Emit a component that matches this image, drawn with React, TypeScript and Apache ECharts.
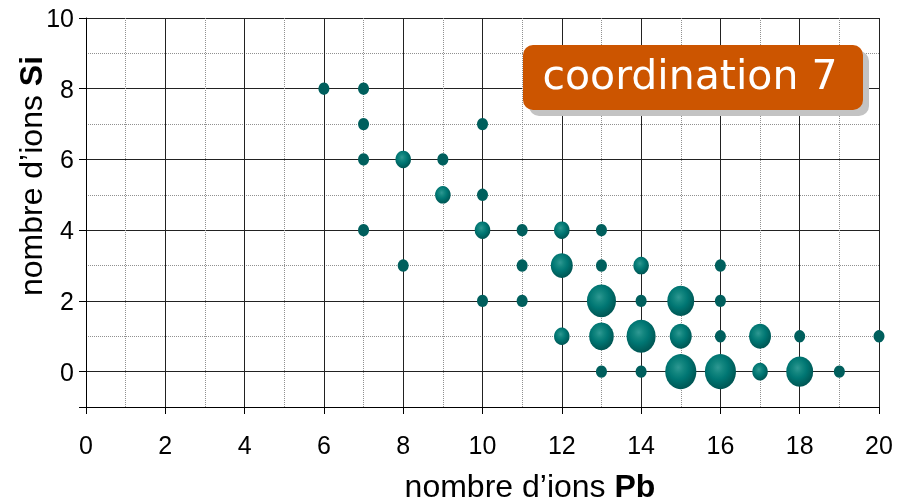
import React, { useEffect, useRef } from "react";
import * as echarts from "echarts";

// Number of Pb ions (x), number of Si ions (y) and relative weight (bubble area) of each configuration
const pbIons = [6, 7, 7, 10, 7, 8, 9, 9, 10, 7, 10, 11, 12, 13, 8, 11, 12, 13, 14, 16, 10, 11, 13, 14, 15, 16, 12, 13, 14, 15, 16, 17, 18, 20, 13, 14, 15, 16, 17, 18, 19];
const siIons = [8, 8, 7, 7, 6, 6, 6, 5, 5, 4, 4, 4, 4, 4, 3, 3, 3, 3, 3, 3, 2, 2, 2, 2, 2, 2, 1, 1, 1, 1, 1, 1, 1, 1, 0, 0, 0, 0, 0, 0, 0];
const weights = [1, 1, 1, 1, 1, 2, 1, 2, 1, 1, 2, 1, 2, 1, 1, 1, 4, 1, 2, 1, 1, 1, 7, 1, 6, 1, 2, 5, 7, 4, 1, 4, 1, 1, 1, 1, 8, 8, 2, 6, 1];

const xTicks = [0, 2, 4, 6, 8, 10, 12, 14, 16, 18, 20];
const yLabels = [0, 2, 4, 6, 8, 10];
const yMajorTicks = [-1, 0, 2, 4, 6, 8, 10];
const yMinorLines = [1, 3, 5, 7, 9];

const title = "coordination 7";
const xName = "nombre d\u2019ions ";
const xNameBold = "Pb";
const yName = "nombre d\u2019ions ";
const yNameBold = "Si";

const FONT = '"Liberation Sans", Arial, sans-serif';

export default function App() {
  const ref = useRef<HTMLDivElement>(null);

  useEffect(() => {
    const chart = echarts.init(ref.current!, null, { renderer: "svg" });

    const points = pbIons.map((x, i) => [x, siIons[i], weights[i]]);
    const dots = points.filter((p) => p[2] <= 1);
    const bubbles = points.filter((p) => p[2] > 1);

    const bubbleFill = new echarts.graphic.RadialGradient(0.42, 0.38, 0.62, [
      { offset: 0, color: "#2f9893" },
      { offset: 0.28, color: "#13867f" },
      { offset: 0.55, color: "#007673" },
      { offset: 0.8, color: "#006461" },
      { offset: 1, color: "#005654" },
    ]);

    const sizeOf = (v: number[]) => [11 * Math.sqrt(v[2]), 12.4 * Math.sqrt(v[2])];

    chart.setOption({
      animation: false,
      grid: { left: 86, right: 20, top: 18, bottom: 97 },
      xAxis: {
        type: "value",
        min: xTicks[0],
        max: xTicks[xTicks.length - 1],
        interval: 2,
        axisLine: { show: true, onZero: false, lineStyle: { color: "#000", width: 1 } },
        axisTick: { show: true, length: 7, lineStyle: { color: "#000" } },
        axisLabel: { fontSize: 25, color: "#000", fontFamily: FONT, margin: 25 },
        splitLine: { show: true, lineStyle: { color: "#222", width: 1 } },
        minorTick: { show: false, splitNumber: 2 },
        minorSplitLine: { show: true, lineStyle: { color: "#909090", type: "dotted", width: 1 } },
      },
      yAxis: [
        {
          type: "value",
          min: -1,
          max: 10,
          interval: 1,
          axisLine: { show: true, onZero: false, lineStyle: { color: "#000", width: 1 } },
          axisTick: { show: true, length: 7, lineStyle: { color: "#000" }, customValues: yMajorTicks },
          axisLabel: { fontSize: 25, color: "#000", fontFamily: FONT, margin: 12, customValues: yLabels },
          splitLine: { show: true, lineStyle: { color: "#222", width: 1 } },
        },
        {
          type: "value",
          min: -1,
          max: 10,
          interval: 1,
          axisLine: { show: false },
          axisTick: { show: false, customValues: yMinorLines },
          axisLabel: { show: false, customValues: yMinorLines },
          splitLine: { show: true, lineStyle: { color: "#909090", type: "dotted", width: 1 } },
        },
      ],
      series: [
        {
          type: "scatter",
          yAxisIndex: 0,
          data: dots,
          symbol: "circle",
          symbolSize: sizeOf,
          itemStyle: { color: "#005f5d", opacity: 1 },
          z: 3,
        },
        {
          type: "scatter",
          yAxisIndex: 0,
          data: bubbles,
          symbol: "circle",
          symbolSize: sizeOf,
          itemStyle: { color: bubbleFill, opacity: 1 },
          z: 4,
        },
      ],
      graphic: [
        {
          type: "rect",
          shape: { x: 529, y: 51, width: 340, height: 65, r: 10 },
          style: { fill: "#c3c3c3" },
          z: 10,
        },
        {
          type: "rect",
          shape: { x: 523, y: 45, width: 340, height: 65, r: 10 },
          style: { fill: "#cc5500" },
          z: 11,
        },
        {
          type: "text",
          x: 690,
          y: 75,
          z: 12,
          style: {
            text: title,
            fill: "#ffffff",
            fontSize: 41,
            fontFamily: '"DejaVu Sans", sans-serif',
            align: "center",
            verticalAlign: "middle",
          },
        },
        {
          type: "text",
          x: 530,
          y: 486,
          style: {
            text: `{r|${xName}}{b|${xNameBold}}`,
            align: "center",
            verticalAlign: "middle",
            rich: {
              r: { fontSize: 32, fontFamily: FONT, fill: "#000" },
              b: { fontSize: 32, fontFamily: FONT, fontWeight: "bold", fill: "#000" },
            },
          },
        },
        {
          type: "text",
          x: 31,
          y: 176,
          rotation: Math.PI / 2,
          style: {
            text: `{r|${yName}}{b|${yNameBold}}`,
            align: "center",
            verticalAlign: "middle",
            rich: {
              r: { fontSize: 32, fontFamily: FONT, fill: "#000" },
              b: { fontSize: 32, fontFamily: FONT, fontWeight: "bold", fill: "#000" },
            },
          },
        },
      ],
    });

    return () => chart.dispose();
  }, []);

  return (
    <div
      ref={ref}
      style={{ position: "fixed", left: 0, top: 0, width: 899, height: 504 }}
    />
  );
}
